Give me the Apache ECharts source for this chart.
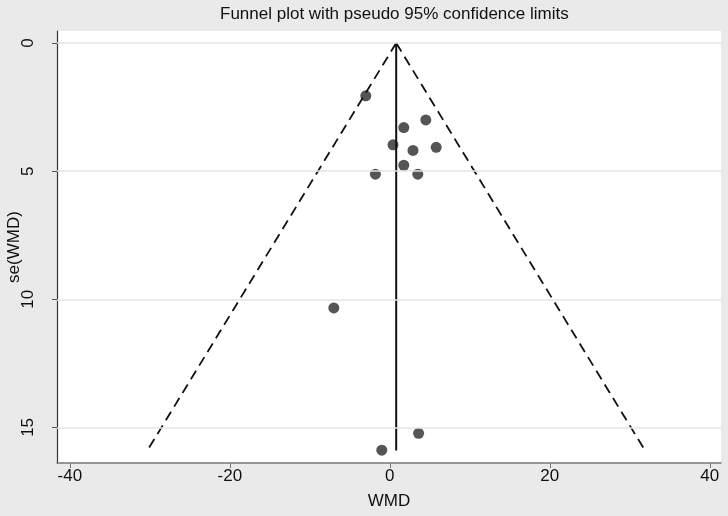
<!DOCTYPE html>
<html>
<head>
<meta charset="utf-8">
<script src="https://cdn.jsdelivr.net/npm/echarts@6/dist/echarts.min.js"></script>
<style>
html,body{margin:0;padding:0;background:#eaeaea;}
#c{width:728px;height:516px;}
</style>
</head>
<body>
<div id="c"></div>
<script>
// Study effects (WMD) and their standard errors
const wmd = [-3.0, 4.5, 1.75, 0.4, 5.8, 2.9, 1.75, -1.8, 3.5, -7.0, 3.6, -1.0];
const seWmd = [2.06, 3.0, 3.3, 3.97, 4.07, 4.19, 4.77, 5.12, 5.12, 10.34, 15.23, 15.89];
// Pooled estimate line (x, se)
const pooledX = [0.8, 0.8];
const pooledSe = [0, 15.9];
// Pseudo 95% confidence limits (x, se)
const lowerX = [0.8, -30.3];
const lowerSe = [0, 15.9];
const upperX = [0.8, 31.9];
const upperSe = [0, 15.9];
// Tick labels
const xTicks = [-40, -20, 0, 20, 40];
const yTicks = [0, 5, 10, 15];

const pts = wmd.map((v, i) => [v, seWmd[i]]);
const pair = (a, b) => a.map((v, i) => [v, b[i]]);
const FONT = 'Liberation Sans, Arial';

const chart = echarts.init(document.getElementById('c'));
chart.setOption({
  backgroundColor: '#eaeaea',
  animation: false,
  title: {
    text: 'Funnel plot with pseudo 95% confidence limits',
    left: 215, top: 1,
    textStyle: {fontFamily: FONT, fontSize: 17, fontWeight: 'normal', color: '#111'}
  },
  grid: {left: 57, right: 7, top: 31, bottom: 53, show: true, backgroundColor: '#ffffff',
         borderWidth: 0, outerBoundsMode: 'none', containLabel: false},
  xAxis: {
    type: 'value', min: -41.6, max: 41.4,
    name: 'WMD', nameLocation: 'middle', nameGap: 30, nameMoveOverlap: false,
    nameTextStyle: {fontFamily: FONT, fontSize: 17, color: '#111'},
    axisLine: {show: true, onZero: false, lineStyle: {color: '#777', width: 1.5}},
    axisTick: {show: true, length: 5, customValues: xTicks, lineStyle: {color: '#777'}},
    axisLabel: {customValues: xTicks, margin: 5, fontFamily: FONT, fontSize: 17, color: '#111'},
    splitLine: {show: false}
  },
  yAxis: {
    type: 'value', inverse: true, min: -0.47, max: 16.39,
    name: 'se(WMD)', nameLocation: 'middle', nameGap: 34, nameRotate: 90, nameMoveOverlap: false,
    nameTextStyle: {fontFamily: FONT, fontSize: 17, color: '#111'},
    axisLine: {show: true, onZero: false, lineStyle: {color: '#333', width: 1.2}},
    axisTick: {show: true, length: 5, customValues: yTicks, lineStyle: {color: '#555'}},
    axisLabel: {customValues: yTicks, rotate: 90, margin: 20, fontFamily: FONT, fontSize: 17, color: '#111'},
    splitLine: {show: false}
  },
  series: [
    {
      type: 'line', data: [], silent: true,
      markLine: {
        silent: true, symbol: 'none', label: {show: false},
        lineStyle: {color: '#e4e4e4', type: 'solid', width: 1.5},
        data: yTicks.map(v => ({yAxis: v}))
      }
    },
    {type: 'line', data: pair(lowerX, lowerSe), symbol: 'none', silent: true,
     lineStyle: {color: '#111', width: 1.8, type: [10, 6]}},
    {type: 'line', data: pair(upperX, upperSe), symbol: 'none', silent: true,
     lineStyle: {color: '#111', width: 1.8, type: [10, 6]}},
    {type: 'line', data: pair(pooledX, pooledSe), symbol: 'none', silent: true,
     lineStyle: {color: '#111', width: 2}},
    {type: 'scatter', data: pts, symbol: 'circle', symbolSize: 11,
     itemStyle: {color: '#2b2b2b'}}
  ]
});
</script>
</body>
</html>
